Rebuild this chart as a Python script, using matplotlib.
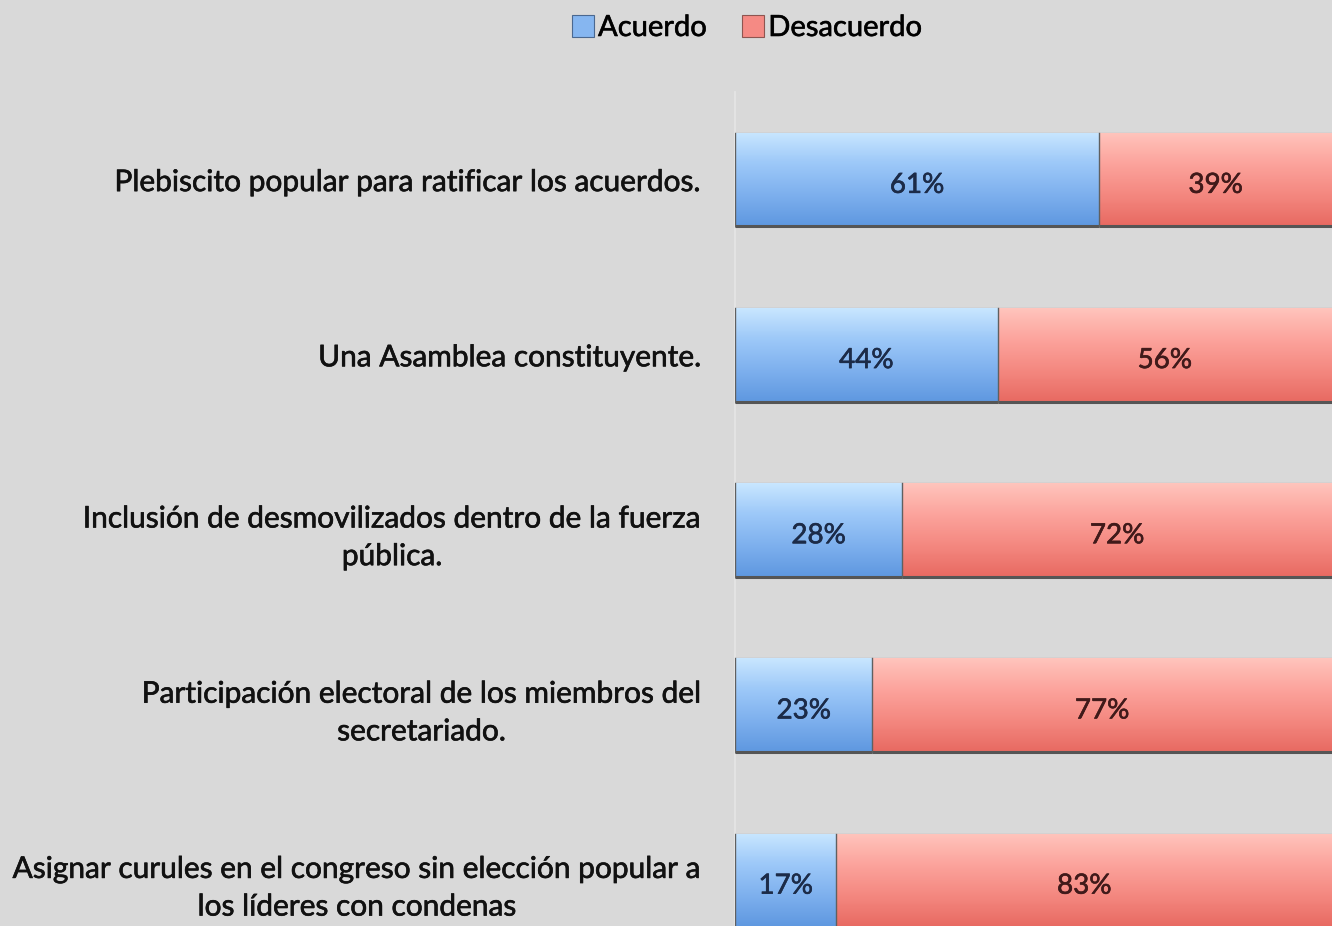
import matplotlib.pyplot as plt
import matplotlib.patheffects as pe
import numpy as np
from matplotlib.colors import LinearSegmentedColormap

# Datos
categorias = [
    "Plebiscito popular para ratificar los acuerdos.",
    "Una Asamblea constituyente.",
    "Inclusión de desmovilizados dentro de la fuerza\npública.",
    "Participación electoral de los miembros del\nsecretariado.",
    "Asignar curules en el congreso sin elección popular a\nlos líderes con condenas",
]
acuerdo = [61, 44, 28, 23, 17]
desacuerdo = [39, 56, 72, 77, 83]
series = ["Acuerdo", "Desacuerdo"]

plt.rcParams['font.family'] = ['Lato', 'DejaVu Sans']

fondo = '#d9d9d9'
azul = '#86b6f0'
rojo = '#f58a84'

# degradados verticales (arriba claro, abajo oscuro)
cmap_azul = LinearSegmentedColormap.from_list('az', ['#c8e6ff', '#9cc8f8', '#7eb0ee', '#5f98e0'])
cmap_rojo = LinearSegmentedColormap.from_list('ro', ['#ffc4bc', '#fca39c', '#f48880', '#e86a62'])

# trazo fino para engrosar un poco el texto
def grueso(c):
    return [pe.withStroke(linewidth=0.45, foreground=c)]

fig = plt.figure(figsize=(13.32, 9.26), dpi=100, facecolor=fondo)
ax = fig.add_axes([735 / 1332, -42 / 926, 1 - 735 / 1332, 876 / 926])
ax.set_facecolor(fondo)

y = np.arange(len(categorias))
alto = 0.535
b1 = ax.barh(y, acuerdo, height=alto, color=azul, edgecolor='#4a6890', linewidth=0.8, label=series[0])
b2 = ax.barh(y, desacuerdo, left=acuerdo, height=alto, color=rojo, edgecolor='#8e5550', linewidth=0.8, label=series[1])

grad = np.linspace(0, 1, 64).reshape(-1, 1)
for barras, cmap in [(b1, cmap_azul), (b2, cmap_rojo)]:
    for rect in barras:
        x0, y0 = rect.get_x(), rect.get_y()
        w, h = rect.get_width(), rect.get_height()
        im = ax.imshow(grad, cmap=cmap, aspect='auto', extent=(x0, x0 + w, y0 + h, y0),
                       origin='upper', zorder=rect.get_zorder() + 0.1, interpolation='bilinear')
        im.set_clip_path(rect)
        # borde inferior oscuro
        ax.plot([x0, x0 + w], [y0 + h, y0 + h], color='#555555', lw=2.2, zorder=3,
                solid_capstyle='butt')
        ax.plot([x0, x0], [y0, y0 + h], color='#606060', lw=1.0, zorder=3)

for rect, v in zip(b1, acuerdo):
    ax.text(rect.get_x() + rect.get_width() / 2, rect.get_y() + rect.get_height() / 2 + 0.03,
            f"{v}%", ha='center', va='center', fontsize=20, color='#1c2b48', zorder=4,
            path_effects=grueso('#1c2b48'))
for rect, v in zip(b2, desacuerdo):
    ax.text(rect.get_x() + rect.get_width() / 2, rect.get_y() + rect.get_height() / 2 + 0.03,
            f"{v}%", ha='center', va='center', fontsize=20, color='#401a1a', zorder=4,
            path_effects=grueso('#401a1a'))

ax.set_xlim(0, 100)
ax.set_ylim(len(categorias) - 0.5, -0.5)
ax.set_yticks(y)
ax.set_yticklabels(categorias, fontsize=21.5, color='#111111', multialignment='center',
                   linespacing=1.42)
for t in ax.get_yticklabels():
    t.set_path_effects(grueso('#111111'))
ax.tick_params(axis='y', length=0, pad=24)
ax.set_xticks([])
for s in ['top', 'right', 'bottom']:
    ax.spines[s].set_visible(False)
ax.spines['left'].set_color('#e6e6e6')
ax.spines['left'].set_linewidth(1.2)

leg = fig.legend(handles=[b1, b2], labels=series, loc='center', bbox_to_anchor=(747 / 1332, 1 - 28 / 926),
                 ncol=2, frameon=False, fontsize=21, handlelength=0.75, handleheight=0.75,
                 handletextpad=0.15, columnspacing=1.2)
for t in leg.get_texts():
    t.set_path_effects(grueso('#111111'))

fig.savefig('out.png', dpi=100, facecolor=fondo)
